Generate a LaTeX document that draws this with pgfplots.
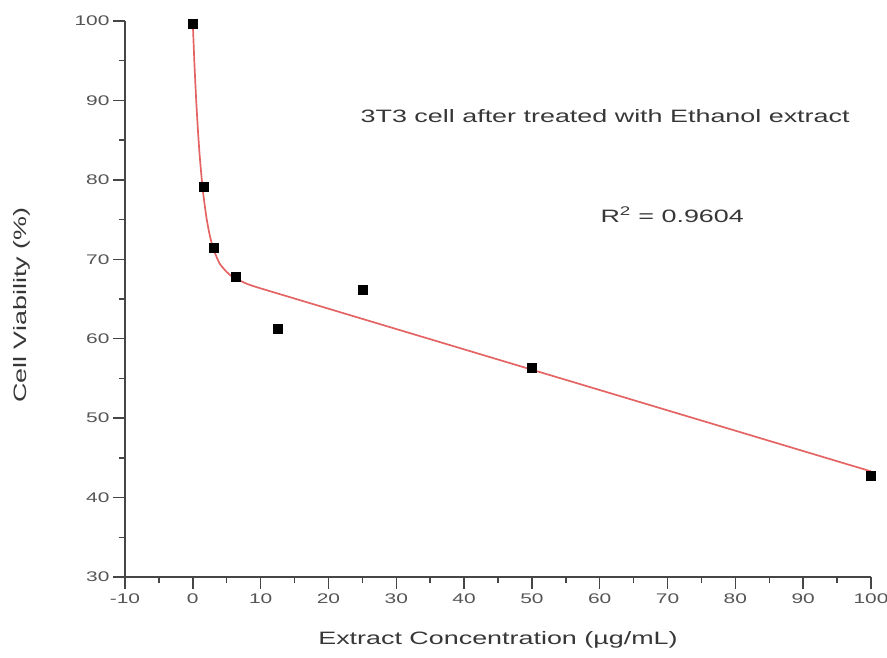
\documentclass[border=0pt]{standalone}
\usepackage{fontspec}
\setmainfont[FakeStretch=1.5]{Liberation Sans}
\usepackage{pgfplots}
\pgfplotsset{compat=1.18}
\definecolor{fitred}{RGB}{228,100,100}
\definecolor{axgray}{RGB}{70,70,70}
\definecolor{txtgray}{RGB}{55,55,55}
\definecolor{ticktxt}{RGB}{85,85,85}
\begin{document}
\begin{tikzpicture}
\useasboundingbox (-125bp,-81bp) rectangle (762bp,577bp);
\begin{axis}[
  scale only axis,
  width=746bp, height=556bp,
  xmin=-10, xmax=100, ymin=30, ymax=100,
  axis x line=bottom, axis y line=left,
  axis line style={-, axgray, line width=1.6bp},
  xtick distance=10, ytick distance=10,
  minor x tick num=1, minor y tick num=1,
  tick align=outside,
  major tick length=12bp, minor tick length=6bp,
  tick style={axgray, line width=1.4bp},
  /pgf/number format/assume math mode=true,
  ticklabel style={font=\fontsize{14}{16}\selectfont, text=ticktxt},
  xticklabel style={yshift=-1bp},
  label style={font=\fontsize{18}{21}\selectfont, text=txtgray},
  xlabel={Extract Concentration (µg/mL)},
  ylabel={Cell Viability (\%)},
  x label style={at={(axis description cs:0.5,0)}, anchor=center, yshift=-63bp},
  y label style={at={(axis description cs:-0.138,0.489)}, anchor=center, rotate=0},
  clip=false,
]
\addplot[fitred, line width=1.7bp, smooth, tension=0.4] coordinates {
(0,99.7) (0.25,94.4) (0.5,90.0) (0.75,86.3) (1.0,83.2) (1.25,80.7) (1.5,78.5)
(2.0,75.3) (2.5,73.0) (3.0,71.4) (3.5,70.3) (4,69.4) (5,68.4) (6,67.7) (7,67.3)
(8,66.9) (10,66.34) (20,63.78) (30,61.22) (40,58.66) (50,56.1) (60,53.54)
(70,50.98) (80,48.42) (90,45.86) (100,43.3)
};
\addplot[only marks, mark=square*, mark size=4.5bp, black] coordinates {
(0,99.6) (1.56,79.1) (3.125,71.4) (6.25,67.8) (12.5,61.2) (25,66.2) (50,56.3) (100,42.7)
};
\node[font=\fontsize{18}{21}\selectfont, text=txtgray, anchor=center] at (axis cs:60.8,88.0) {3T3 cell after treated with Ethanol extract};
\node[font=\fontsize{18}{21}\selectfont, text=txtgray, anchor=west] at (axis cs:59.6,75.6) {R\textsuperscript{2} = 0.9604};
\end{axis}
\end{tikzpicture}
\end{document}
